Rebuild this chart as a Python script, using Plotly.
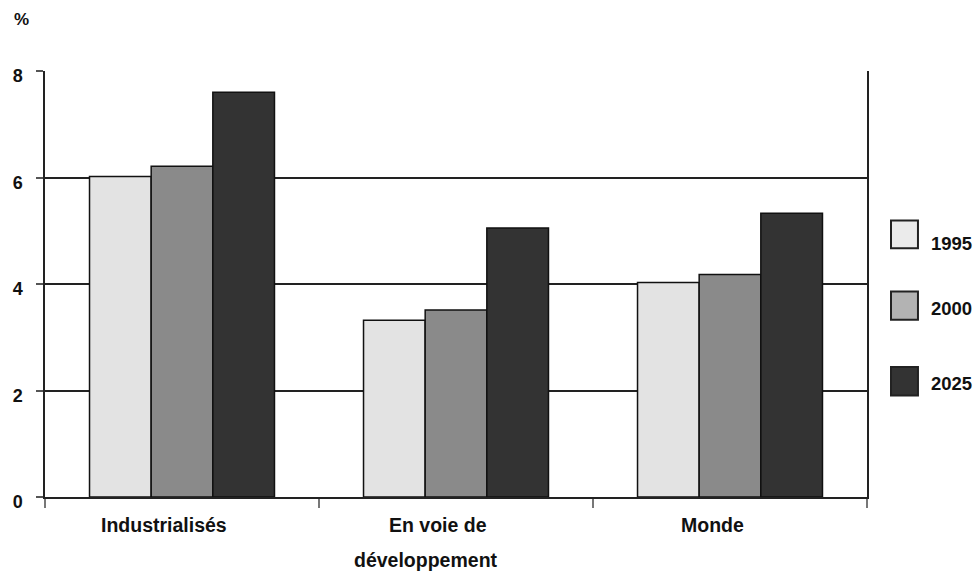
import plotly.graph_objects as go

categories = ["Industrialisés", "En voie de développement", "Monde"]
label_lines = [["Industrialisés"], ["En voie de", "développement"], ["Monde"]]
years = ["1995", "2000", "2025"]
values_1995 = [6.02, 3.32, 4.03]
values_2000 = [6.21, 3.51, 4.18]
values_2025 = [7.60, 5.05, 5.33]
y_ticks = [0, 2, 4, 6, 8]

bar_colors = ["#e3e3e3", "#8a8a8a", "#333333"]
swatch_colors = ["#ebebeb", "#b3b3b3", "#333333"]
FONT = "Liberation Sans, Arial, sans-serif"

fig = go.Figure()
for name, vals, col in zip(years, [values_1995, values_2000, values_2025], bar_colors):
    fig.add_trace(go.Bar(x=categories, y=vals, name=name, marker_color=col,
                         marker_line_color="#111111", marker_line_width=1.5,
                         showlegend=False))

fig.update_layout(
    width=977, height=574,
    margin=dict(l=45, r=110, t=71, b=77),
    paper_bgcolor="white", plot_bgcolor="white",
    barmode="group", bargap=0.325, bargroupgap=0,
    font=dict(family=FONT, color="#111111"),
)
fig.update_xaxes(
    showticklabels=False, showgrid=False,
    showline=True, linecolor="#222222", linewidth=1.5,
    ticks="outside", tickson="boundaries", ticklen=9, tickwidth=1.5, tickcolor="#777777",
)
fig.update_yaxes(
    range=[0, 8], tickvals=y_ticks, ticktext=[str(v) for v in y_ticks],
    showgrid=True, gridcolor="#222222", gridwidth=1.5,
    showline=True, mirror=True, linecolor="#222222", linewidth=1.5,
    ticks="outside", ticklen=7, tickwidth=1.5, tickcolor="#555555",
    tickfont=dict(family=FONT, size=18, color="#111111", weight="bold"),
    ticklabelstandoff=10, ticklabelshift=5, zeroline=False,
)

# Category labels
for cat, lines in zip(categories, label_lines):
    for i, line in enumerate(lines):
        fig.add_annotation(x=cat, xref="x", y=0, yref="paper", text=line,
                           showarrow=False, xanchor="center", yanchor="middle",
                           xshift=-18 if i == 0 else -30, yshift=-28 - 35 * i,
                           font=dict(family=FONT, size=19.5, color="#111111", weight="bold"))

# Unit label
fig.add_annotation(x=-0.029, xref="paper", y=1.12, yref="paper", text="%",
                   showarrow=False, xanchor="center", yanchor="middle",
                   font=dict(family=FONT, size=17, color="#111111", weight="bold"))

# Custom legend
legend_box_y = [(0.5841, 0.6488), (0.4159, 0.4823), (0.2383, 0.3049)]
legend_text_y = [0.5958, 0.4417, 0.2658]
for yr, col, (y0, y1), ty in zip(years, swatch_colors, legend_box_y, legend_text_y):
    fig.add_shape(type="rect", xref="paper", yref="paper", x0=1.0292, x1=1.0620,
                  y0=y0, y1=y1, fillcolor=col, line=dict(color="#222222", width=2))
    fig.add_annotation(x=1.0753, xref="paper", y=ty, yref="paper", text=yr,
                       showarrow=False, xanchor="left", yanchor="middle",
                       font=dict(family=FONT, size=18.5, color="#111111", weight="bold"))

fig.write_html("out.html")
